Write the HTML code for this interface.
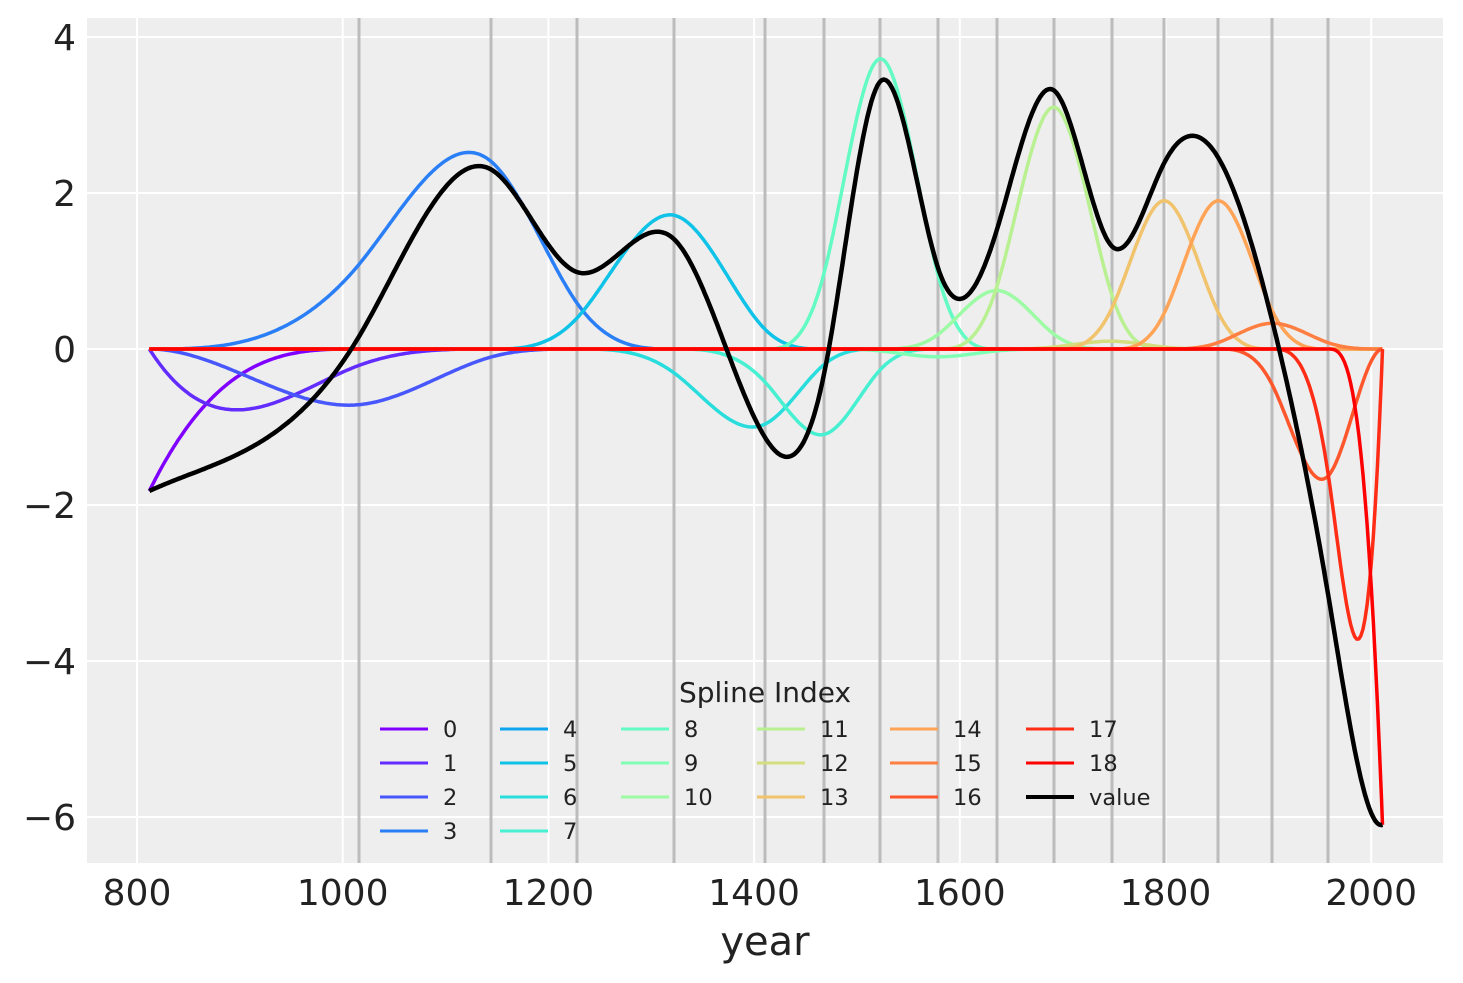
<!DOCTYPE html>
<html><head><meta charset="utf-8"><style>
body{margin:0;background:#fff;}
svg{display:block;font-family:"DejaVu Sans","Liberation Sans",sans-serif;}
</style></head><body>
<svg id="s" width="1463" height="983" xmlns="http://www.w3.org/2000/svg">
<rect x="87" y="18" width="1356" height="845" fill="#eeeeee"/>
<g id="grid" stroke="#ffffff" stroke-width="2"></g>
<g id="knots" stroke="#bcbcbc" stroke-width="3"></g>
<g id="curves" fill="none" stroke-linejoin="round"></g>
<g id="ticks" fill="#222" font-size="36"></g>
<text x="765" y="955" font-size="40" text-anchor="middle" fill="#222">year</text>
<g id="legend" font-size="22.5" fill="#222"></g>
</svg>
<script>
const X=y=>137+(y-800)*1.0285, Y=v=>349-78*v;
const ns="http://www.w3.org/2000/svg";
function el(p,t,a,txt){const e=document.createElementNS(ns,t);for(const k in a)e.setAttribute(k,a[k]);if(txt!==undefined)e.textContent=txt;document.getElementById(p).appendChild(e);return e;}
for(let yr=800;yr<=2000;yr+=200){el("grid","line",{x1:X(yr),x2:X(yr),y1:18,y2:863});el("ticks","text",{x:X(yr),y:905,"text-anchor":"middle"},String(yr));}
for(let v=-6;v<=4;v+=2){el("grid","line",{x1:87,x2:1443,y1:Y(v),y2:Y(v)});el("ticks","text",{x:76,y:Y(v)+13,"text-anchor":"end"},(v<0?"\u2212":"")+Math.abs(v));}
const kx=[359,491,577,674,765,824,880,938,997,1054,1112,1164,1218,1272,1328];
kx.forEach(x=>el("knots","line",{x1:x,x2:x,y1:18,y2:863}));
const inner=kx.map(x=>800+(x-137)/1.0285);
const a=812,b=2011;
const t=[a,a,a,a,...inner,b,b,b,b];
function basis(x){
 let N=[];for(let i=0;i<t.length-1;i++)N.push((x>=t[i]&&x<t[i+1])?1:0);
 if(x>=b){N=N.map(()=>0);N[t.length-5]=1;}
 for(let k=1;k<=3;k++){const M=[];for(let i=0;i<t.length-1-k;i++){let v=0;
  if(t[i+k]>t[i])v+=(x-t[i])/(t[i+k]-t[i])*N[i];
  if(t[i+k+1]>t[i+1])v+=(t[i+k+1]-x)/(t[i+k+1]-t[i+1])*N[i+1];M.push(v);}N=M;}
 return N;}
const xs=[];for(let x=a;x<=b;x+=2)xs.push(x);if(xs[xs.length-1]!==b)xs.push(b);
const B=xs.map(basis);
const peaks=[-1.82,-0.78,-0.72,2.52,0.0,1.72,-1.0,-1.1,3.72,-0.1,0.75,3.1,0.1,1.9,1.9,0.33,-1.67,-3.72,-6.1];
const w=peaks.map((p,i)=>{let m=0;B.forEach(r=>m=Math.max(m,r[i]));return p/m;});
function col(i){const x=i/18;const c=v=>Math.round(Math.max(0,Math.min(1,v))*255);
 return `rgb(${c(Math.abs(2*x-0.5))},${c(Math.sin(Math.PI*x))},${c(Math.cos(Math.PI*x/2))})`;}
for(let i=0;i<19;i++){let d="";xs.forEach((x,j)=>{d+=(j?"L":"M")+X(x).toFixed(1)+","+Y(w[i]*B[j][i]).toFixed(1);});
 el("curves","path",{d,stroke:col(i),"stroke-width":3.5});}
let d="";xs.forEach((x,j)=>{let s=0;for(let i=0;i<19;i++)s+=w[i]*B[j][i];d+=(j?"L":"M")+X(x).toFixed(1)+","+Y(s).toFixed(1);});
el("curves","path",{d,stroke:"#000","stroke-width":4.5});
el("legend","text",{x:765,y:702,"font-size":28,"text-anchor":"middle"},"Spline Index");
const cols=[[0,1,2,3],[4,5,6,7],[8,9,10],[11,12,13],[14,15,16],[17,18,"value"]];
const cx=[380,500,621,757,890,1026];
cols.forEach((c,ci)=>c.forEach((it,ri)=>{const y=729+ri*34;
 el("legend","line",{x1:cx[ci],x2:cx[ci]+48,y1:y,y2:y,stroke:it==="value"?"#000":col(it),"stroke-width":it==="value"?4:3});
 el("legend","text",{x:cx[ci]+63,y:y+8},String(it));}));
</script>
</body></html>
